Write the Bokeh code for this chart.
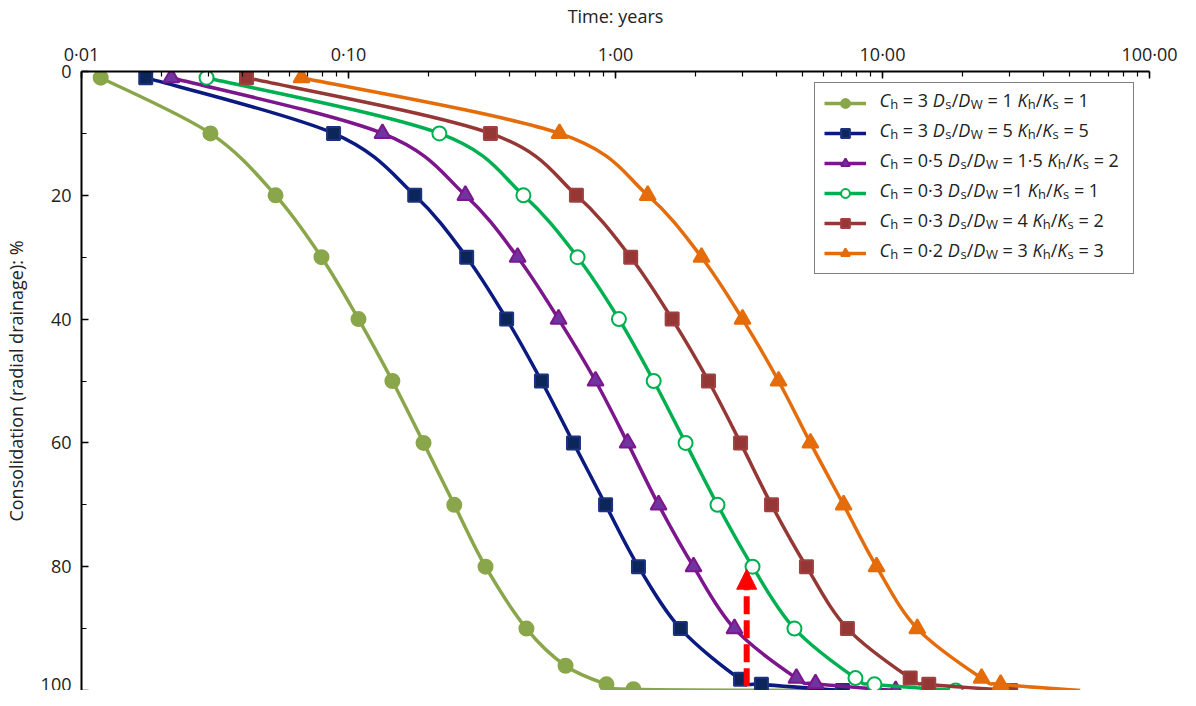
from bokeh.plotting import figure
from bokeh.models import (Range1d, FixedTicker, LogTicker, CustomJSTickFormatter,
                          Legend, LegendItem, Label, Arrow, NormalHead)
from bokeh.embed import file_html
from bokeh.resources import INLINE
import math

FONT = "Open Sans"

# ---------------- data (time in years, consolidation in %) ----------------
t1 = [0.0118, 0.0304, 0.0533, 0.0792, 0.109, 0.146, 0.191, 0.249, 0.326, 0.464, 0.650, 0.925, 1.167, 7.0]
c1 = [1, 10, 20, 30, 40, 50, 60, 70, 80, 90, 96, 99, 99.8, 100]

t2 = [0.0174, 0.0879, 0.177, 0.277, 0.391, 0.528, 0.696, 0.918, 1.219, 1.75, 2.94, 3.52, 7.08]
c2 = [1, 10, 20, 30, 40, 50, 60, 70, 80, 90, 98.2, 99, 100]

t3 = [0.0217, 0.134, 0.274, 0.430, 0.612, 0.842, 1.11, 1.45, 1.96, 2.79, 4.76, 5.61, 11.2]
c3 = [1, 10, 20, 30, 40, 50, 60, 70, 80, 90, 98, 98.9, 100]

t4 = [0.0294, 0.219, 0.452, 0.721, 1.03, 1.39, 1.83, 2.41, 3.26, 4.68, 7.92, 9.33, 18.8]
c4 = [1, 10, 20, 30, 40, 50, 60, 70, 80, 90, 98, 99, 100]

t5 = [0.0415, 0.340, 0.714, 1.14, 1.63, 2.23, 2.94, 3.84, 5.19, 7.39, 12.7, 14.9, 30.2]
c5 = [1, 10, 20, 30, 40, 50, 60, 70, 80, 90, 98, 99, 100]

t6 = [0.0667, 0.617, 1.32, 2.10, 2.99, 4.08, 5.37, 7.15, 9.50, 13.5, 23.5, 27.7, 55.0]
c6 = [1, 10, 20, 30, 40, 50, 60, 70, 80, 90, 98, 99, 100]

# legend parameters
ch_vals = ["3", "3", "0·5", "0·3", "0·3", "0·2"]
dsdw_vals = ["1", "5", "1·5", "1", "4", "3"]
dsdw_eq = [" = ", " = ", " = ", " =", " = ", " = "]
khks_vals = ["1", "5", "2", "1", "2", "3"]

# red arrow: time 3.1 years, from 100 % up to 80 %
arrow_t = 3.1
arrow_from = 99.3
arrow_to = 80.4

y_ticks = [0, 20, 40, 60, 80, 100]
y_minor = [10, 30, 50, 70, 90]

# ---------------- figure ----------------
H = 690
p = figure(width=1180, height=H, x_axis_type="log", x_axis_location="above",
           x_range=Range1d(0.01, 100), y_range=Range1d(100, 0),
           output_backend="svg", toolbar_location=None,
           min_border_left=81, min_border_right=31, min_border_top=66, min_border_bottom=0)
p.outline_line_color = None
p.grid.visible = False
p.background_fill_color = "white"

xa = p.xaxis[0]
xa.ticker = LogTicker(num_minor_ticks=10)
xa.formatter = CustomJSTickFormatter(code="return tick.toFixed(2).replace('.', '\u00b7');")
xa.axis_label = "Time: years"
ya = p.yaxis[0]
ya.ticker = FixedTicker(ticks=y_ticks, minor_ticks=y_minor)
ya.axis_label = "Consolidation (radial drainage): %"

for ax in (xa, ya):
    ax.axis_line_color = "black"
    ax.axis_line_width = 2
    ax.major_tick_in = 7
    ax.major_tick_out = 0
    ax.minor_tick_in = 5
    ax.minor_tick_out = 0
    ax.major_tick_line_width = 1.5
    ax.minor_tick_line_width = 1.2
    ax.major_tick_line_color = "black"
    ax.minor_tick_line_color = "black"
    ax.major_label_text_font = FONT
    ax.major_label_text_font_size = "18px"
    ax.major_label_text_color = "#222222"
    ax.axis_label_text_font = FONT
    ax.axis_label_text_font_size = "18px"
    ax.axis_label_text_font_style = "normal"
    ax.axis_label_text_color = "#222222"
xa.major_label_standoff = 6
xa.axis_label_standoff = 11
ya.major_label_standoff = 10
ya.axis_label_standoff = 10


def smooth(t, c):
    """Excel-style smoothed line: cubic Bezier control points from neighbours (in log-time space)."""
    lx = [math.log10(v) for v in t]
    n = len(lx)
    out = {k: [] for k in ("x0", "y0", "x1", "y1", "cx0", "cy0", "cx1", "cy1")}
    for i in range(n - 1):
        a = max(i - 1, 0)
        b = min(i + 2, n - 1)
        out["x0"].append(t[i]); out["y0"].append(c[i])
        out["x1"].append(t[i + 1]); out["y1"].append(c[i + 1])
        out["cx0"].append(10 ** (lx[i] + (lx[i + 1] - lx[a]) / 6))
        out["cy0"].append(c[i] + (c[i + 1] - c[a]) / 6)
        out["cx1"].append(10 ** (lx[i + 1] - (lx[b] - lx[i]) / 6))
        out["cy1"].append(c[i + 1] - (c[b] - c[i]) / 6)
    return out


series = [
    (t1, c1, "#8aa64a", "circle", "#8aa64a", "#8aa64a", 14, True),
    (t2, c2, "#0a1a80", "square", "#0c2659", "#1c3280", 13, False),
    (t3, c3, "#7b168c", "triangle", "#7034a0", "#7b168c", 16, False),
    (t4, c4, "#00b050", "circle", "white", "#00b050", 14, False),
    (t5, c5, "#953735", "square", "#953735", "#a04040", 13, False),
    (t6, c6, "#e46c0a", "triangle", "#e46c0a", "#e46c0a", 16, True),
]

items = []
for t, c, col, mk, fill, mline, size, last_bare in series:
    lr = p.bezier(line_color=col, line_width=3.5, **smooth(t, c))
    mt = t[:-1] if last_bare else t
    mc = c[:-1] if last_bare else c
    sr = p.scatter(mt, mc, marker=mk, size=size, fill_color=fill, line_color=mline, line_width=2)
    items.append(LegendItem(label=" ", renderers=[lr, sr]))

p.add_layout(Arrow(end=NormalHead(size=20, fill_color="red", line_color="red"),
                   x_start=arrow_t, y_start=arrow_from, x_end=arrow_t, y_end=arrow_to,
                   line_color="red", line_width=6, line_dash="18 6"))

FRAME_LEFT = 82            # page x of the plot frame
LEGEND_REF_BOTTOM = 687    # page y the legend offset is measured from
TEXT_REF_BOTTOM = 698      # page y the legend text offsets are measured from

legend = Legend(items=items, location=(815 - FRAME_LEFT, LEGEND_REF_BOTTOM - 271), orientation="vertical",
                glyph_width=42, glyph_height=22, label_height=22, label_width=253,
                label_standoff=5, spacing=8, padding=9, margin=0,
                label_text_font_size="6px",
                border_line_color="black", border_line_width=1.8,
                background_fill_color="white", background_fill_alpha=0.0)
p.add_layout(legend)

# ---------------- legend texts with italics and subscripts ----------------
W_REG = {" ": 532, "=": 1171, "/": 752, "·": 545}
W_ITA = {"C": 1210, "D": 1432, "K": 1165}
W_SUB = {"h": 1257, "s": 995, "W": 1890}
MAIN, SUB = 18, 13


def width(txt, kind):
    if kind == "i":
        return sum(W_ITA.get(ch, 1171) for ch in txt) / 2048 * MAIN
    if kind == "s":
        return sum(W_SUB.get(ch, 1100) for ch in txt) / 2048 * SUB
    return sum(W_REG.get(ch, 1171) for ch in txt) / 2048 * MAIN


for i in range(6):
    tokens = [("C", "i"), ("h", "s"), (" = " + ch_vals[i] + " ", "n"),
              ("D", "i"), ("s", "s"), ("/", "n"), ("D", "i"), ("W", "s"),
              (dsdw_eq[i] + dsdw_vals[i] + " ", "n"),
              ("K", "i"), ("h", "s"), ("/", "n"), ("K", "i"), ("s", "s"),
              (" = " + khks_vals[i], "n")]
    row_c = 100.5 + 30 * i
    x = 880.0
    for txt, kind in tokens:
        if kind == "s":
            base = row_c + 11
            fs = SUB
            style = "normal"
        else:
            base = row_c + 6.5
            fs = MAIN
            style = "italic" if kind == "i" else "normal"
        core = txt.strip(" ")
        lead = len(txt) - len(txt.lstrip(" "))
        trail = len(txt) - len(txt.rstrip(" "))
        x += width(" " * lead, "n")
        p.add_layout(Label(x=x - FRAME_LEFT, y=TEXT_REF_BOTTOM - base, x_units="screen", y_units="screen",
                           text=core, text_font=FONT, text_font_size=f"{fs}px", text_font_style=style,
                           text_color="#222222", text_baseline="alphabetic", text_align="left",
                           level="overlay"))
        x += width(core, kind) + width(" " * trail, "n")

open("out.html", "w").write(file_html(p, INLINE))
